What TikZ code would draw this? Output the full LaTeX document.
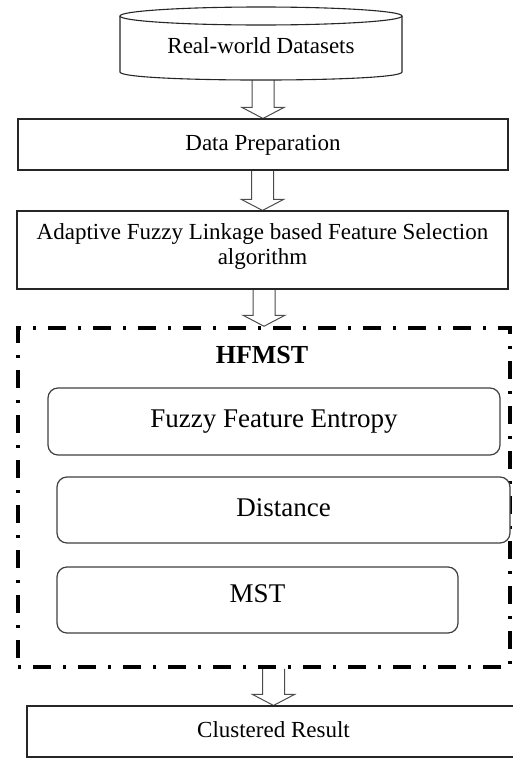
\documentclass[tikz,border=0pt]{standalone}
\usepackage{fontspec}
\setmainfont{Liberation Serif}
\usetikzlibrary{calc,backgrounds}
\begin{document}
\begin{tikzpicture}[x=1pt,y=-1pt,
  sqbox/.style={draw=black!85, line width=1.1pt, fill=white, inner sep=0pt, align=center,
    font=\fontsize{23}{25}\selectfont},
  rbox/.style={draw=black!75, line width=1.2pt, fill=white, rounded corners=10pt, inner sep=0pt,
    font=\fontsize{27}{30}\selectfont, text height=18pt},
  dashbox/.style={draw=black, line width=3.5pt, inner sep=0pt,
    dash pattern=on 3pt off 12pt on 18pt off 12pt},
  cyl/.style={draw=black!85, line width=1.1pt, fill=white},
  blockarrow/.style={draw=black!70, line width=1pt, fill=white,
    to path={let \p1=(\tikztostart), \p2=(\tikztotarget) in
      (\x2-11pt,\y1) -- (\x2-11pt,\y2+11pt) -- (\x2-21pt,\y2+11pt) -- (\x2,\y2)
      -- (\x2+21pt,\y2+11pt) -- (\x2+11pt,\y2+11pt) -- (\x2+11pt,\y1)}}
]
\useasboundingbox (0,0) rectangle (513,758);
% cylinder
\filldraw[cyl] (120,16) -- (120,72) .. controls (120,82.7) and (402,82.7) .. (402,72) -- (402,16);
\filldraw[cyl] (261,16) ellipse [x radius=141, y radius=9];
\node[inner sep=0pt, minimum width=282, minimum height=73, font=\fontsize{23}{25}\selectfont,
  text height=15pt, text depth=0pt] (ds) at (261,43.5) {\raisebox{-2.5pt}{Real-world Datasets}};

\node[sqbox, minimum width=490, minimum height=51, text height=15.2pt, text depth=3pt] (dp) at (263,144.5) {Data Preparation};
\node[sqbox, minimum width=491, minimum height=78] (afl) at (262.5,250)
  {\raisebox{3.5pt}[\height][\depth]{\begin{tabular}{@{}c@{}}Adaptive Fuzzy Linkage based Feature Selection\\algorithm\end{tabular}}};

\node[dashbox, minimum width=492, minimum height=339] (hb) at (264,497.5) {};
\node[font=\fontsize{26}{28}\selectfont\bfseries, inner sep=0pt] (hf) at (262,355) {HFMST};

\node[rbox, minimum width=452, minimum height=67, text depth=7pt] (ffe) at (274,421.5) {Fuzzy Feature Entropy};
\node[rbox, minimum width=453, minimum height=66, text depth=6pt] (dist) at (283.5,510) {Distance};
\node[rbox, minimum width=401, minimum height=66, text depth=14pt] (mst) at (257.5,600) {MST};

\node[sqbox, minimum width=493, minimum height=51, text height=15.2pt, text depth=3pt] (cr) at (273.5,731.5) {Clustered Result};

\begin{scope}[on background layer]
\draw[blockarrow] (ds.south) to (dp.north);
\draw[blockarrow] (dp.south) to (afl.north);
\draw[blockarrow] (afl.south) to (hb.north);
\draw[blockarrow] (hb.south) to (cr.north);
\end{scope}
\end{tikzpicture}
\end{document}
